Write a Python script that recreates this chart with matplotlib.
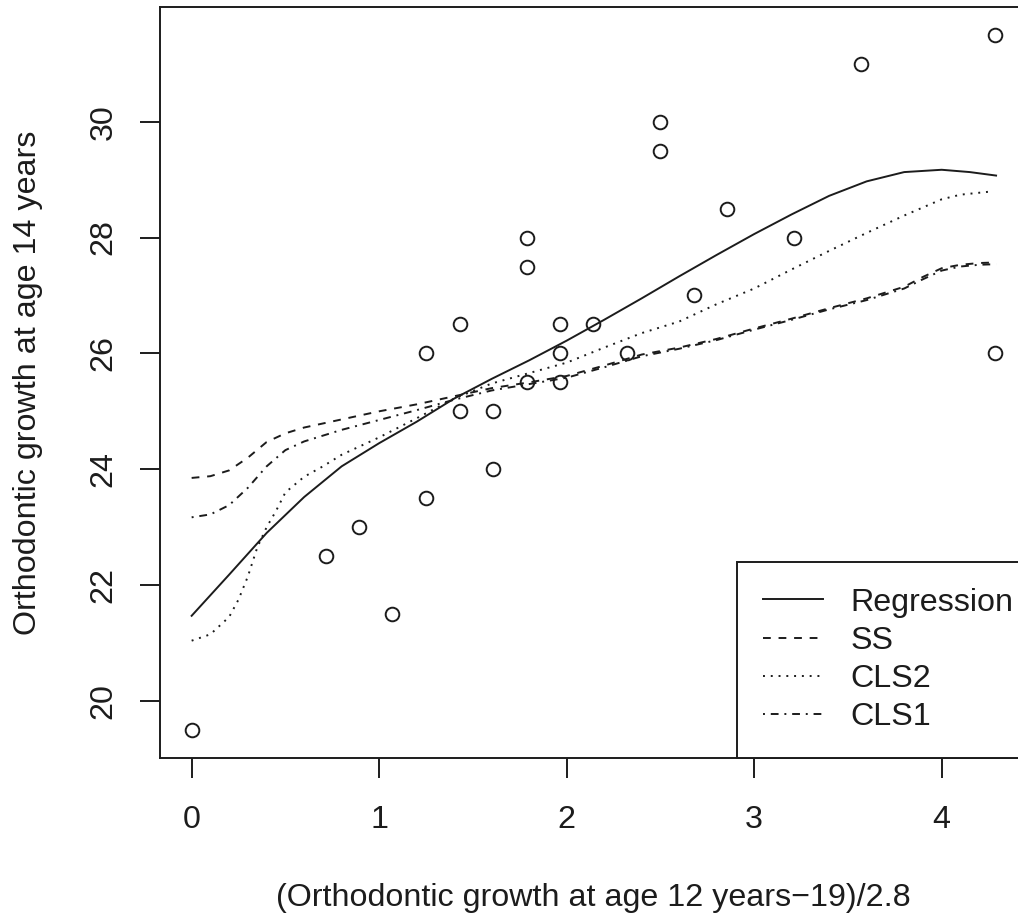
import matplotlib
matplotlib.use('Agg')
import matplotlib.pyplot as plt

plt.rcParams['font.family'] = ['Liberation Sans', 'DejaVu Sans']

# observed data (scaled age 12 vs age 14)
obs_x = [0, 0.714, 0.893, 1.071, 1.25, 1.25, 1.429, 1.429, 1.607, 1.607,
         1.786, 1.786, 1.786, 1.964, 1.964, 1.964, 2.143, 2.321, 2.5, 2.5,
         2.679, 2.857, 3.214, 3.571, 4.286, 4.286]
obs_y = [19.5, 22.5, 23, 21.5, 23.5, 26, 25, 26.5, 25, 24,
         25.5, 27.5, 28, 25.5, 26, 26.5, 26.5, 26, 29.5, 30,
         27, 28.5, 28, 31, 31.5, 26]

# fitted curves
reg_x = [0, 0.2, 0.4, 0.6, 0.8, 1.0, 1.2, 1.4, 1.6, 1.8, 2.0, 2.2, 2.4, 2.6,
         2.8, 3.0, 3.2, 3.4, 3.6, 3.8, 4.0, 4.15, 4.29]
reg_y = [21.47, 22.18, 22.9, 23.52, 24.05, 24.45, 24.82, 25.22, 25.56, 25.88,
         26.22, 26.58, 26.95, 27.33, 27.7, 28.06, 28.4, 28.72, 28.97, 29.13,
         29.17, 29.13, 29.07]

ss_x = [0, 0.1, 0.2, 0.3, 0.4, 0.5, 0.6, 0.8, 1.0, 1.2, 1.4, 1.6, 1.8, 2.0,
        2.2, 2.4, 2.6, 2.8, 3.0, 3.2, 3.4, 3.6, 3.7, 3.8, 3.9, 4.0, 4.1, 4.2, 4.29]
ss_y = [23.85, 23.88, 23.98, 24.2, 24.47, 24.62, 24.72, 24.86, 25.0, 25.12,
        25.26, 25.4, 25.5, 25.61, 25.79, 25.98, 26.1, 26.25, 26.43, 26.6,
        26.78, 26.95, 27.05, 27.15, 27.32, 27.47, 27.53, 27.56, 27.57]

cls1_x = ss_x
cls1_y = [23.17, 23.22, 23.38, 23.68, 24.05, 24.33, 24.48, 24.68, 24.85, 25.02,
          25.2, 25.36, 25.47, 25.58, 25.76, 25.95, 26.08, 26.23, 26.41, 26.58,
          26.76, 26.92, 27.02, 27.12, 27.28, 27.43, 27.5, 27.53, 27.54]

cls2_x = [0, 0.1, 0.2, 0.25, 0.3, 0.35, 0.4, 0.45, 0.5, 0.6, 0.7, 0.8, 1.0,
          1.2, 1.4, 1.6, 1.8, 2.0, 2.2, 2.4, 2.6, 2.8, 3.0, 3.2, 3.4, 3.6,
          3.8, 4.0, 4.1, 4.25]
cls2_y = [21.04, 21.15, 21.45, 21.75, 22.15, 22.65, 23.0, 23.28, 23.6, 23.87,
          24.05, 24.25, 24.55, 24.88, 25.22, 25.48, 25.66, 25.84, 26.1, 26.35,
          26.55, 26.85, 27.12, 27.45, 27.77, 28.08, 28.38, 28.66, 28.74, 28.79]

x_ticks = [0, 1, 2, 3, 4]
y_ticks = [20, 22, 24, 26, 28, 30]
labels = ['Regression', 'SS', 'CLS2', 'CLS1']

ink = '#1c1c1c'
lw = 1.4
fs = 23.2
W, H = 1018, 915

fig = plt.figure(figsize=(W / 100, H / 100), dpi=100)
# plot region runs past the right edge of the image, as in the reference
ax_l, ax_r, ax_t, ax_b = 159.5, 1027.4, 7.0, 757.7
ax = fig.add_axes([ax_l / W, (H - ax_b) / H, (ax_r - ax_l) / W, (ax_b - ax_t) / H])

ax.plot(obs_x, obs_y, 'o', ms=9.8, mfc='none', mec=ink, mew=lw, zorder=3)

l1, = ax.plot(reg_x, reg_y, color=ink, lw=lw, ls='-')
l2, = ax.plot(ss_x, ss_y, color=ink, lw=lw, ls=(0, (4, 4)))
l3, = ax.plot(cls2_x, cls2_y, color=ink, lw=lw, ls=(0, (1, 3)))
l4, = ax.plot(cls1_x, cls1_y, color=ink, lw=lw, ls=(0, (1, 3, 4, 3)))

ax.set_xlim(-0.1714, 4.4571)
ax.set_ylim(19.02, 31.98)
ax.set_xticks(x_ticks)
ax.set_yticks(y_ticks)
ax.set_xticklabels([str(v) for v in x_ticks])
ax.set_yticklabels([str(v) for v in y_ticks], rotation=90, va='center')

for sp in ax.spines.values():
    sp.set_color(ink)
    sp.set_linewidth(lw)
ax.tick_params(axis='both', length=14.2, width=lw, color=ink, labelcolor=ink,
               labelsize=fs)
ax.tick_params(axis='x', pad=19.9)
ax.tick_params(axis='y', pad=15.3)

fig.text((ax_l + ax_r) / 2 / W, (H - 906) / H,
         '(Orthodontic growth at age 12 years\u221219)/2.8',
         ha='center', va='baseline', fontsize=fs, color=ink)
fig.text(36 / W, (H - (ax_t + ax_b) / 2) / H,
         'Orthodontic growth at age 14 years', rotation=90,
         rotation_mode='anchor', ha='center', va='baseline', fontsize=fs, color=ink)

leg = ax.legend([l1, l2, l3, l4], labels, loc='lower left',
                bbox_to_anchor=((737 - ax_l) / (ax_r - ax_l), 0),
                borderaxespad=0, fontsize=fs, frameon=True, fancybox=False,
                framealpha=1, edgecolor=ink, handlelength=1.86,
                handletextpad=0.87, borderpad=0.8, labelspacing=0.25)
leg.get_frame().set_linewidth(lw)
for t in leg.get_texts():
    t.set_color(ink)

fig.savefig('out.png', dpi=100)
